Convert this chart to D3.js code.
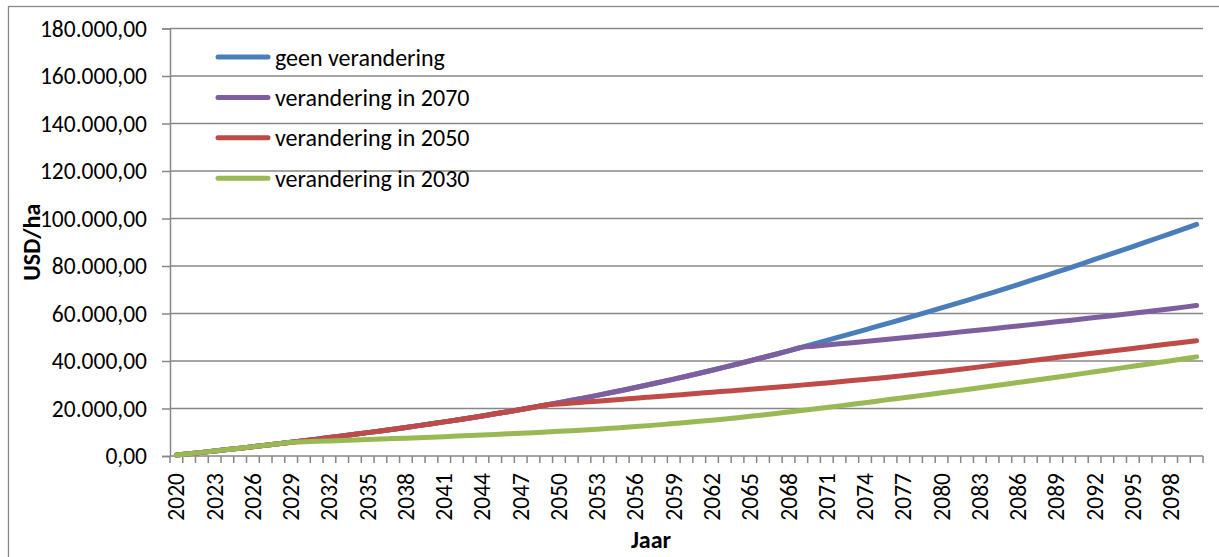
<!DOCTYPE html>
<html>
<head>
<meta charset="utf-8">
<script src="https://cdn.jsdelivr.net/npm/d3@7"></script>
<style>
  html, body { margin: 0; padding: 0; background: #fff; }
  svg { display: block; }
  text { font-family: Calibri, Carlito, Lato, sans-serif; fill: #000; }
</style>
</head>
<body>
<svg id="chart" width="1219" height="557"></svg>
<script>
// Years on the category axis
const years = d3.range(2020, 2101);

// Tick labels (every third year is labelled)
const xTickLabels = ["2020","2023","2026","2029","2032","2035","2038","2041","2044","2047",
  "2050","2053","2056","2059","2062","2065","2068","2071","2074","2077","2080","2083",
  "2086","2089","2092","2095","2098"];
const yTicks = [0, 20000, 40000, 60000, 80000, 100000, 120000, 140000, 160000, 180000];

// USD/ha per year, one array per scenario
const geenVerandering = [
  400, 960, 1530, 2110, 2700, 3300, 3910, 4530, 5160, 5800,
  6450, 7110, 7780, 8460, 9150, 9850, 10560, 11280, 12020, 12780,
  13560, 14360, 15180, 16020, 16880, 17760, 18660, 19580, 20520, 21480,
  22460, 23460, 24485, 25535, 26610, 27710, 28835, 29985, 31160, 32360,
  33585, 34835, 36110, 37410, 38735, 40085, 41460, 42860, 44285, 45735,
  47195, 48665, 50145, 51635, 53135, 54645, 56165, 57695, 59235, 60785,
  62355, 63945, 65555, 67185, 68835, 70505, 72195, 73905, 75635, 77385,
  79155, 80945, 82745, 84555, 86375, 88205, 90045, 91895, 93755, 95625,
  97505];

const verandering2070 = [
  400, 960, 1530, 2110, 2700, 3300, 3910, 4530, 5160, 5800,
  6450, 7110, 7780, 8460, 9150, 9850, 10560, 11280, 12020, 12780,
  13560, 14360, 15180, 16020, 16880, 17760, 18660, 19580, 20520, 21480,
  22460, 23460, 24485, 25535, 26610, 27710, 28835, 29985, 31160, 32360,
  33585, 34835, 36110, 37410, 38735, 40085, 41460, 42860, 44285, 45735,
  46225, 46720, 47220, 47725, 48235, 48750, 49270, 49795, 50325, 50860,
  51400, 51945, 52495, 53050, 53610, 54175, 54745, 55320, 55900, 56485,
  57075, 57670, 58270, 58875, 59485, 60105, 60735, 61375, 62025, 62685,
  63355];

const verandering2050 = [
  400, 960, 1530, 2110, 2700, 3300, 3910, 4530, 5160, 5800,
  6450, 7110, 7780, 8460, 9150, 9850, 10560, 11280, 12020, 12780,
  13560, 14360, 15180, 16020, 16880, 17760, 18660, 19580, 20520, 21480,
  21880, 22280, 22685, 23090, 23500, 23910, 24320, 24735, 25150, 25565,
  25985, 26405, 26825, 27245, 27670, 28095, 28520, 28950, 29390, 29840,
  30300, 30770, 31250, 31745, 32255, 32765, 33295, 33845, 34415, 35005,
  35615, 36240, 36880, 37530, 38185, 38845, 39505, 40165, 40805, 41445,
  42085, 42725, 43370, 44015, 44660, 45305, 45955, 46605, 47255, 47905,
  48555];

const verandering2030 = [
  400, 960, 1530, 2110, 2700, 3300, 3910, 4530, 5160, 5800,
  5980, 6162, 6347, 6535, 6726, 6920, 7117, 7317, 7521, 7729,
  7941, 8157, 8377, 8603, 8835, 9073, 9318, 9570, 9830, 10100,
  10382, 10677, 10987, 11312, 11652, 12012, 12392, 12792, 13212, 13652,
  14112, 14592, 15092, 15612, 16152, 16712, 17292, 17892, 18507, 19137,
  19782, 20437, 21102, 21777, 22462, 23157, 23857, 24527, 25207, 25897,
  26597, 27307, 28022, 28742, 29467, 30197, 30932, 31672, 32417, 33167,
  33922, 34682, 35447, 36217, 36992, 37772, 38557, 39347, 40142, 40942,
  41747];

const seriesNames = ["geen verandering", "verandering in 2070", "verandering in 2050", "verandering in 2030"];
const seriesColors = ["#4A7EBB", "#7D5FA0", "#BE4B48", "#98B954"];
const seriesValues = [geenVerandering, verandering2070, verandering2050, verandering2030];

const svg = d3.select("#chart");
const W = 1219, H = 557;
const plot = { left: 170, right: 1203, top: 28.5, bottom: 456 };
const gridColor = "#878787";
const fontStack = "Calibri, Carlito, Lato, sans-serif";

// Outer chart border
svg.append("rect")
  .attr("x", 8.5).attr("y", 6.5)
  .attr("width", W + 20).attr("height", H + 20)
  .attr("fill", "#fff").attr("stroke", gridColor).attr("stroke-width", 1.3);

const x = d3.scaleBand().domain(years).range([plot.left, plot.right]).paddingInner(0).paddingOuter(0);
const y = d3.scaleLinear().domain([0, 180000]).range([plot.bottom, plot.top]);
const cx = yr => x(yr) + x.bandwidth() / 2;

const nl = d3.formatLocale({ decimal: ",", thousands: ".", grouping: [3], currency: ["€", ""] });
const fmt = nl.format(",.2f");

// Horizontal gridlines
svg.append("g").selectAll("line").data(yTicks.filter(d => d > 0)).join("line")
  .attr("x1", plot.left).attr("x2", plot.right)
  .attr("y1", d => y(d)).attr("y2", d => y(d))
  .attr("stroke", gridColor).attr("stroke-width", 1.5);

// Y axis
const yAxis = d3.axisLeft(y).tickValues(yTicks).tickFormat(fmt).tickSize(8).tickPadding(15);
const gy = svg.append("g").attr("transform", `translate(${plot.left},0)`).call(yAxis);
gy.select(".domain").attr("stroke", gridColor).attr("stroke-width", 1.5);
gy.selectAll(".tick line").attr("stroke", gridColor).attr("stroke-width", 1.5);
gy.selectAll(".tick text").style("font-size", "23.5px").attr("fill", "#000")
  .style("font-family", fontStack);

// X axis: tick marks on category boundaries
const gx = svg.append("g");
gx.append("line")
  .attr("x1", plot.left).attr("x2", plot.right)
  .attr("y1", plot.bottom).attr("y2", plot.bottom)
  .attr("stroke", gridColor).attr("stroke-width", 1.5);
const boundaries = years.map(yr => x(yr)).concat([plot.right]);
gx.selectAll("line.tk").data(boundaries).join("line").attr("class", "tk")
  .attr("x1", d => d).attr("x2", d => d)
  .attr("y1", plot.bottom).attr("y2", plot.bottom + 7)
  .attr("stroke", gridColor).attr("stroke-width", 1.5);
gx.selectAll("text").data(xTickLabels).join("text")
  .attr("transform", d => `translate(${cx(+d)},${plot.bottom + 17}) rotate(-90)`)
  .attr("text-anchor", "end")
  .attr("dominant-baseline", "central")
  .style("font-size", "23.5px")
  .text(d => d);

// Series lines (drawn so the later-changing scenarios sit beneath)
const line = d3.line()
  .x((d, i) => cx(years[i]))
  .y(d => y(d))
  .curve(d3.curveMonotoneX);

svg.append("g").selectAll("path").data(seriesValues).join("path")
  .attr("d", d => line(d))
  .attr("fill", "none")
  .attr("stroke", (d, i) => seriesColors[i])
  .attr("stroke-width", 5)
  .attr("stroke-linecap", "round")
  .attr("stroke-linejoin", "round");

// Legend
const lg = svg.append("g");
seriesNames.forEach((name, i) => {
  const ly = 57 + i * 40.4;
  lg.append("line")
    .attr("x1", 218).attr("x2", 268).attr("y1", ly).attr("y2", ly)
    .attr("stroke", seriesColors[i]).attr("stroke-width", 5).attr("stroke-linecap", "round");
  lg.append("text")
    .attr("x", 275).attr("y", ly)
    .attr("dominant-baseline", "central")
    .style("font-size", "24px")
    .text(name);
});

// Axis titles
svg.append("text")
  .attr("transform", `translate(31,${(plot.top + plot.bottom) / 2}) rotate(-90)`)
  .attr("text-anchor", "middle").attr("dominant-baseline", "central")
  .style("font-size", "24px").style("font-weight", "bold")
  .text("USD/ha");
svg.append("text")
  .attr("x", 651).attr("y", 548)
  .attr("text-anchor", "middle")
  .style("font-size", "24px").style("font-weight", "bold")
  .text("Jaar");
</script>
</body>
</html>
